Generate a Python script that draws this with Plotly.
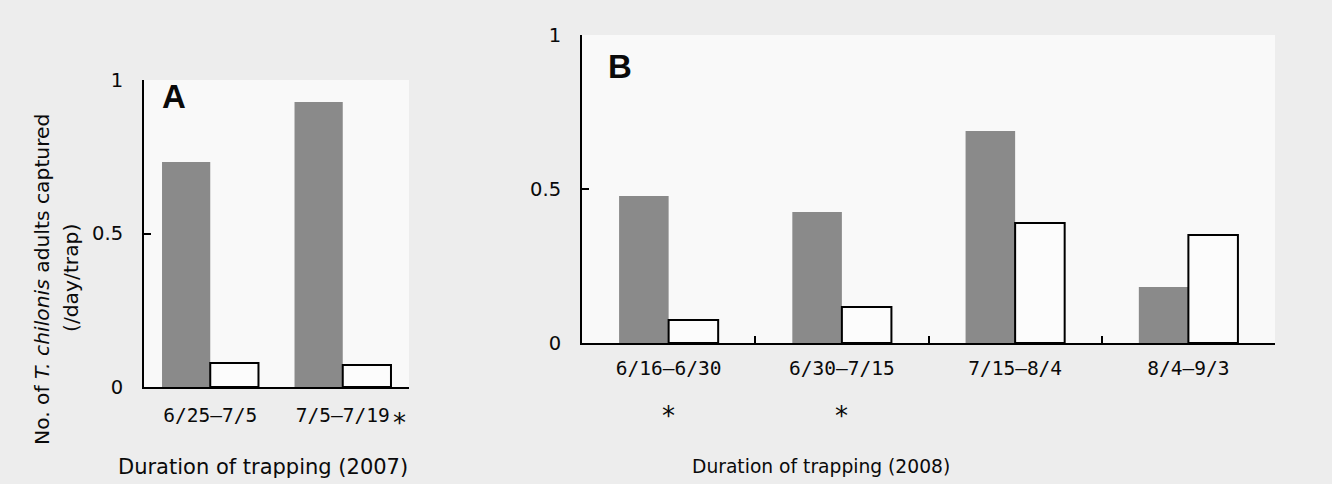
import plotly.graph_objects as go

# ---- data ----
cats_2007 = ["6/25–7/5", "7/5–7/19"]
gray_2007 = [0.733, 0.928]
white_2007 = [0.078, 0.072]

cats_2008 = ["6/16–6/30", "6/30–7/15", "7/15–8/4", "8/4–9/3"]
gray_2008 = [0.477, 0.425, 0.688, 0.182]
white_2008 = [0.075, 0.117, 0.390, 0.351]

ytick_vals = [0, 0.5, 1]
ytick_text = ["0", "0.5", "1"]

W, H = 1332, 484
FONT = "DejaVu Sans"
MONO = "DejaVu Sans Mono"
TXT = "#0a0a0a"
GRAY = "#8a8a8a"
WHITE = "#fcfcfc"

wA = 0.364
wB = 0.286

fig = go.Figure()
fig.add_trace(go.Bar(x=cats_2007, y=gray_2007, width=wA, offset=-wA,
                     marker=dict(color=GRAY, line=dict(width=0)),
                     xaxis="x", yaxis="y", showlegend=False, hoverinfo="skip"))
fig.add_trace(go.Bar(x=cats_2007, y=white_2007, width=wA, offset=0,
                     marker=dict(color=WHITE, line=dict(color="black", width=2)),
                     xaxis="x", yaxis="y", showlegend=False, hoverinfo="skip"))
fig.add_trace(go.Bar(x=cats_2008, y=gray_2008, width=wB, offset=-wB,
                     marker=dict(color=GRAY, line=dict(width=0)),
                     xaxis="x2", yaxis="y2", showlegend=False, hoverinfo="skip"))
fig.add_trace(go.Bar(x=cats_2008, y=white_2008, width=wB, offset=0,
                     marker=dict(color=WHITE, line=dict(color="black", width=2)),
                     xaxis="x2", yaxis="y2", showlegend=False, hoverinfo="skip"))

def px_x(v):
    return v / W

def px_y(v):
    return 1 - v / H

common_y = dict(range=[0, 1], tickvals=ytick_vals, ticktext=ytick_text,
                showline=True, linecolor="black", linewidth=2,
                ticks="inside", ticklen=7, tickwidth=2, tickcolor="black",
                showgrid=False, zeroline=False, automargin=False,
                tickfont=dict(family=FONT, size=19.5, color=TXT),
                ticklabelstandoff=15)

fig.update_layout(
    template="none",
    width=W, height=H, autosize=False,
    margin=dict(l=0, r=0, t=0, b=0, pad=0),
    paper_bgcolor="#ededed",
    plot_bgcolor="#f9f9f9",
    barmode="overlay",
    xaxis=dict(domain=[px_x(144), px_x(409)], range=[-0.5, 1.5],
               type="category", anchor="y", automargin=False,
               showline=True, linecolor="black", linewidth=2,
               ticks="", showgrid=False, zeroline=False,
               tickfont=dict(family=MONO, size=19.5, color=TXT),
               ticklabelstandoff=10),
    yaxis=dict(domain=[px_y(387), px_y(80)], anchor="x", **common_y),
    xaxis2=dict(domain=[px_x(582), px_x(1275)], range=[-0.5, 3.5],
                type="category", anchor="y2", automargin=False,
                showline=True, linecolor="black", linewidth=2,
                ticks="inside", tickson="boundaries", ticklen=7, tickwidth=2,
                tickcolor="black", showgrid=False, zeroline=False,
                tickfont=dict(family=MONO, size=19.5, color=TXT),
                ticklabelstandoff=7),
    yaxis2=dict(domain=[px_y(343), px_y(35)], anchor="x2", **common_y),
)

def note(text, x, y, size, family=FONT, xref="paper", angle=0):
    return dict(text=text, x=x, y=y, xref=xref, yref="paper",
                xanchor="center", yanchor="middle", textangle=angle,
                showarrow=False, font=dict(family=family, size=size, color=TXT))

ann = [
    note("<b>A</b>", px_x(174), px_y(97), 33, family="Liberation Sans"),
    note("<b>B</b>", px_x(620), px_y(66), 33, family="Liberation Sans"),
    note("No. of <i>T. chilonis</i> adults captured", px_x(42), px_y(280), 20.3, angle=-90),
    note("(/day/trap)", px_x(71), px_y(278), 20.3, angle=-90),
    note("Duration of trapping (2007)", px_x(263), px_y(467), 21),
    note("Duration of trapping (2008)", px_x(821), px_y(466), 18.7),
    note("*", px_x(399), px_y(423), 26),
]
for c in cats_2008[:2]:
    ann.append(note("*", c, px_y(416), 26, xref="x2"))
fig.update_layout(annotations=ann)

fig.write_html("out.html",
               config={"displayModeBar": False},
               post_script="document.body.style.margin='0px';"
                           "document.documentElement.style.overflow='hidden';")
